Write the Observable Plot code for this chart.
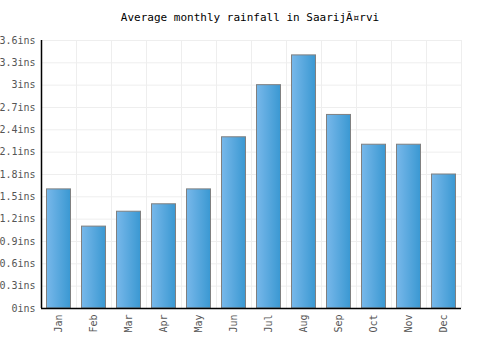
<!DOCTYPE html>
<html><head><meta charset="utf-8">
<script src="https://cdn.jsdelivr.net/npm/d3@7"></script>
<script src="https://cdn.jsdelivr.net/npm/@observablehq/plot@0.6"></script>
<style>
body{margin:0;background:#fff;}
#wrap{width:500px;height:350px;position:relative;}
#title{height:30px;width:500px;text-align:center;font-family:"DejaVu Sans Mono",monospace;font-size:11px;line-height:36px;color:#000;}
svg{display:block;}
</style></head>
<body><div id="wrap"><div id="title">Average monthly rainfall in SaarijÃ¤rvi</div><div id="chart"></div></div>
<script>
const months = ["Jan","Feb","Mar","Apr","May","Jun","Jul","Aug","Sep","Oct","Nov","Dec"];
const rainfall = [1.6,1.1,1.3,1.4,1.6,2.3,3.0,3.4,2.6,2.2,2.2,1.8];
const yTicks = [0,0.3,0.6,0.9,1.2,1.5,1.8,2.1,2.4,2.7,3.0,3.3,3.6];
const data = months.map((m,i)=>({month:m,value:rainfall[i]}));
const fmt = v => (Math.round(v*10)/10) + "ins";
const chart = Plot.plot({
  width:500, height:320,
  marginLeft:41, marginRight:39, marginTop:10, marginBottom:42,
  style:{fontFamily:"DejaVu Sans Mono, monospace", fontSize:"10px", color:"#555", background:"#fff"},
  x:{domain:months, padding:0, label:null, tickSize:0, tickRotate:-90, tickPadding:6},
  y:{domain:[0,3.6], ticks:yTicks, tickFormat:fmt, label:null, tickSize:0, tickPadding:6},
  marks:[
    Plot.gridY(yTicks,{stroke:"#eee", strokeOpacity:1}),
    Plot.tickX(months,{x:d=>d, stroke:"#eee", strokeOpacity:1, dx:17.5}),
    Plot.barY(data,{x:"month", y:"value", fill:"url(#barGrad)", stroke:"#808080", strokeWidth:1, insetLeft:5.5, insetRight:5.5}),
    Plot.ruleX([0],{x:()=>months[0], dx:-17.5, stroke:"#000", strokeWidth:1.5}),
    Plot.ruleY([0],{stroke:"#000", strokeWidth:1.5})
  ]
});
const svg = d3.select(chart);
const defs = svg.insert("defs",":first-child");
const g = defs.append("linearGradient").attr("id","barGrad").attr("x1","0%").attr("x2","100%").attr("y1","0%").attr("y2","0%");
g.append("stop").attr("offset","0%").attr("stop-color","#78b8ea");
g.append("stop").attr("offset","100%").attr("stop-color","#3a98d2");
document.getElementById("chart").appendChild(chart);
</script></body></html>
